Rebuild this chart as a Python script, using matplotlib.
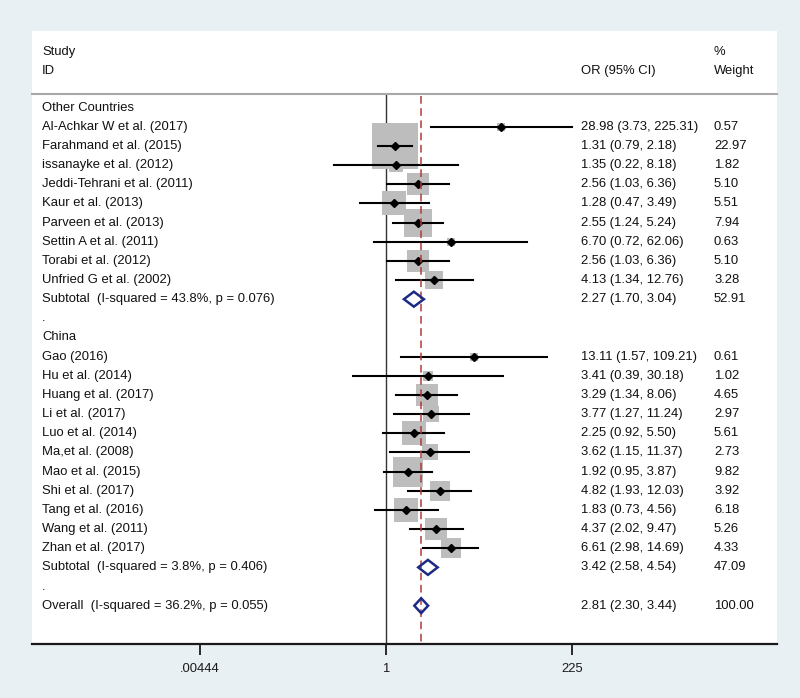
import numpy as np
import matplotlib
matplotlib.use("Agg")
import matplotlib.pyplot as plt
from matplotlib.patches import Polygon

plt.rcParams['font.family'] = ['Liberation Sans', 'DejaVu Sans']

# study data
other_names = ["Al-Achkar W et al. (2017)", "Farahmand et al. (2015)", "issanayke et al. (2012)",
               "Jeddi-Tehrani et al. (2011)", "Kaur et al. (2013)", "Parveen et al. (2013)",
               "Settin A et al. (2011)", "Torabi et al. (2012)", "Unfried G et al. (2002)"]
other_or = [28.98, 1.31, 1.35, 2.56, 1.28, 2.55, 6.70, 2.56, 4.13]
other_lo = [3.73, 0.79, 0.22, 1.03, 0.47, 1.24, 0.72, 1.03, 1.34]
other_hi = [225.31, 2.18, 8.18, 6.36, 3.49, 5.24, 62.06, 6.36, 12.76]
other_w = [0.57, 22.97, 1.82, 5.10, 5.51, 7.94, 0.63, 5.10, 3.28]

china_names = ["Gao (2016)", "Hu et al. (2014)", "Huang et al. (2017)", "Li et al. (2017)",
               "Luo et al. (2014)", "Ma,et al. (2008)", "Mao et al. (2015)", "Shi et al. (2017)",
               "Tang et al. (2016)", "Wang et al. (2011)", "Zhan et al. (2017)"]
china_or = [13.11, 3.41, 3.29, 3.77, 2.25, 3.62, 1.92, 4.82, 1.83, 4.37, 6.61]
china_lo = [1.57, 0.39, 1.34, 1.27, 0.92, 1.15, 0.95, 1.93, 0.73, 2.02, 2.98]
china_hi = [109.21, 30.18, 8.06, 11.24, 5.50, 11.37, 3.87, 12.03, 4.56, 9.47, 14.69]
china_w = [0.61, 1.02, 4.65, 2.97, 5.61, 2.73, 9.82, 3.92, 6.18, 5.26, 4.33]

# pooled estimates: label, OR, lo, hi, weight
sub_labels = ["Subtotal  (I-squared = 43.8%, p = 0.076)",
              "Subtotal  (I-squared = 3.8%, p = 0.406)",
              "Overall  (I-squared = 36.2%, p = 0.055)"]
sub_or = [2.27, 3.42, 2.81]
sub_lo = [1.70, 2.58, 2.30]
sub_hi = [3.04, 4.54, 3.44]
sub_w = [52.91, 47.09, 100.00]

tick_vals = [0.00444, 1, 225]
tick_labels = [".00444", "1", "225"]

# build row list: (kind, index)
rows = [("head", "Other Countries")]
rows += [("study", ("o", i)) for i in range(len(other_names))]
rows += [("sub", 0), ("dot", "."), ("head", "China")]
rows += [("study", ("c", i)) for i in range(len(china_names))]
rows += [("sub", 1), ("dot", "."), ("sub", 2)]

fig = plt.figure(figsize=(8, 6.98), dpi=100)
fig.patch.set_facecolor("#e9f0f4")
W, H = 800, 698
left, right, top, bottom = 32, 777, 31, 644
ax = fig.add_axes([left / W, 1 - bottom / H, (right - left) / W, (bottom - top) / H])
ax.set_facecolor("white")
ax.set_xscale("log")
ax.set_xlim(np.exp((left - 385.7) / 34.34), np.exp((right - 385.7) / 34.34))
ax.set_ylim(28.0, -4.0)

fs = 9.4
tc = "#111111"
tr = ax.get_yaxis_transform()
x_lab = (42 - left) / (right - left)
x_or = (581 - left) / (right - left)
x_w = (714 - left) / (right - left)

# header
ax.text(x_lab, -2.9, "Study", transform=tr, fontsize=fs, color=tc, va="center")
ax.text(x_lab, -1.9, "ID", transform=tr, fontsize=fs, color=tc, va="center")
ax.text(x_or, -1.9, "OR (95% CI)", transform=tr, fontsize=fs, color=tc, va="center")
ax.text(x_w, -2.9, "%", transform=tr, fontsize=fs, color=tc, va="center")
ax.text(x_w, -1.9, "Weight", transform=tr, fontsize=fs, color=tc, va="center")
ax.plot([0, 1], [-0.72, -0.72], transform=tr, color="#a8a8a8", lw=1.5, clip_on=False)

# null line and overall line
ax.plot([1, 1], [-0.72, 28.0], color="#333333", lw=1.0, zorder=1)
ax.plot([sub_or[2], sub_or[2]], [-0.6, 28.0], color="#b03a3a", lw=1.1,
        ls=(0, (5, 3)), zorder=4)

dh = 0.39
for y, (kind, val) in enumerate(rows):
    if kind in ("head", "dot"):
        ax.text(x_lab, y, val, transform=tr, fontsize=fs, color=tc, va="center")
    elif kind == "study":
        grp, i = val
        if grp == "o":
            name, o, lo, hi, w = other_names[i], other_or[i], other_lo[i], other_hi[i], other_w[i]
        else:
            name, o, lo, hi, w = china_names[i], china_or[i], china_lo[i], china_hi[i], china_w[i]
        ax.scatter([o], [y], s=49.8 * w, marker="s", color="#bdbdbd", linewidths=0, zorder=2)
        ax.plot([lo, hi], [y, y], color="black", lw=1.5, zorder=3)
        ax.plot([o], [y], marker="D", ms=4, color="black", zorder=3)
        ax.text(x_lab, y, name, transform=tr, fontsize=fs, color=tc, va="center")
        ax.text(x_or, y, f"{o:.2f} ({lo:.2f}, {hi:.2f})", transform=tr, fontsize=fs, color=tc, va="center")
        ax.text(x_w, y, f"{w:.2f}", transform=tr, fontsize=fs, color=tc, va="center")
    else:
        o, lo, hi, w = sub_or[val], sub_lo[val], sub_hi[val], sub_w[val]
        poly = Polygon([(lo, y), (o, y - dh), (hi, y), (o, y + dh)], closed=True,
                       facecolor="none", edgecolor="#1c2a85", lw=1.8, zorder=5)
        ax.add_patch(poly)
        ax.text(x_lab, y, sub_labels[val], transform=tr, fontsize=fs, color=tc, va="center")
        ax.text(x_or, y, f"{o:.2f} ({lo:.2f}, {hi:.2f})", transform=tr, fontsize=fs, color=tc, va="center")
        ax.text(x_w, y, f"{w:.2f}", transform=tr, fontsize=fs, color=tc, va="center")

for s in ["top", "right", "left"]:
    ax.spines[s].set_visible(False)
ax.spines["bottom"].set_linewidth(1.6)
ax.spines["bottom"].set_color("#1a1a1a")
ax.set_yticks([])
ax.set_xticks(tick_vals)
ax.set_xticklabels(tick_labels)
ax.minorticks_off()
ax.tick_params(axis="x", length=8, width=1.3, pad=6, labelsize=fs, colors="#1a1a1a")

fig.savefig("out.png", dpi=100, facecolor=fig.get_facecolor())
